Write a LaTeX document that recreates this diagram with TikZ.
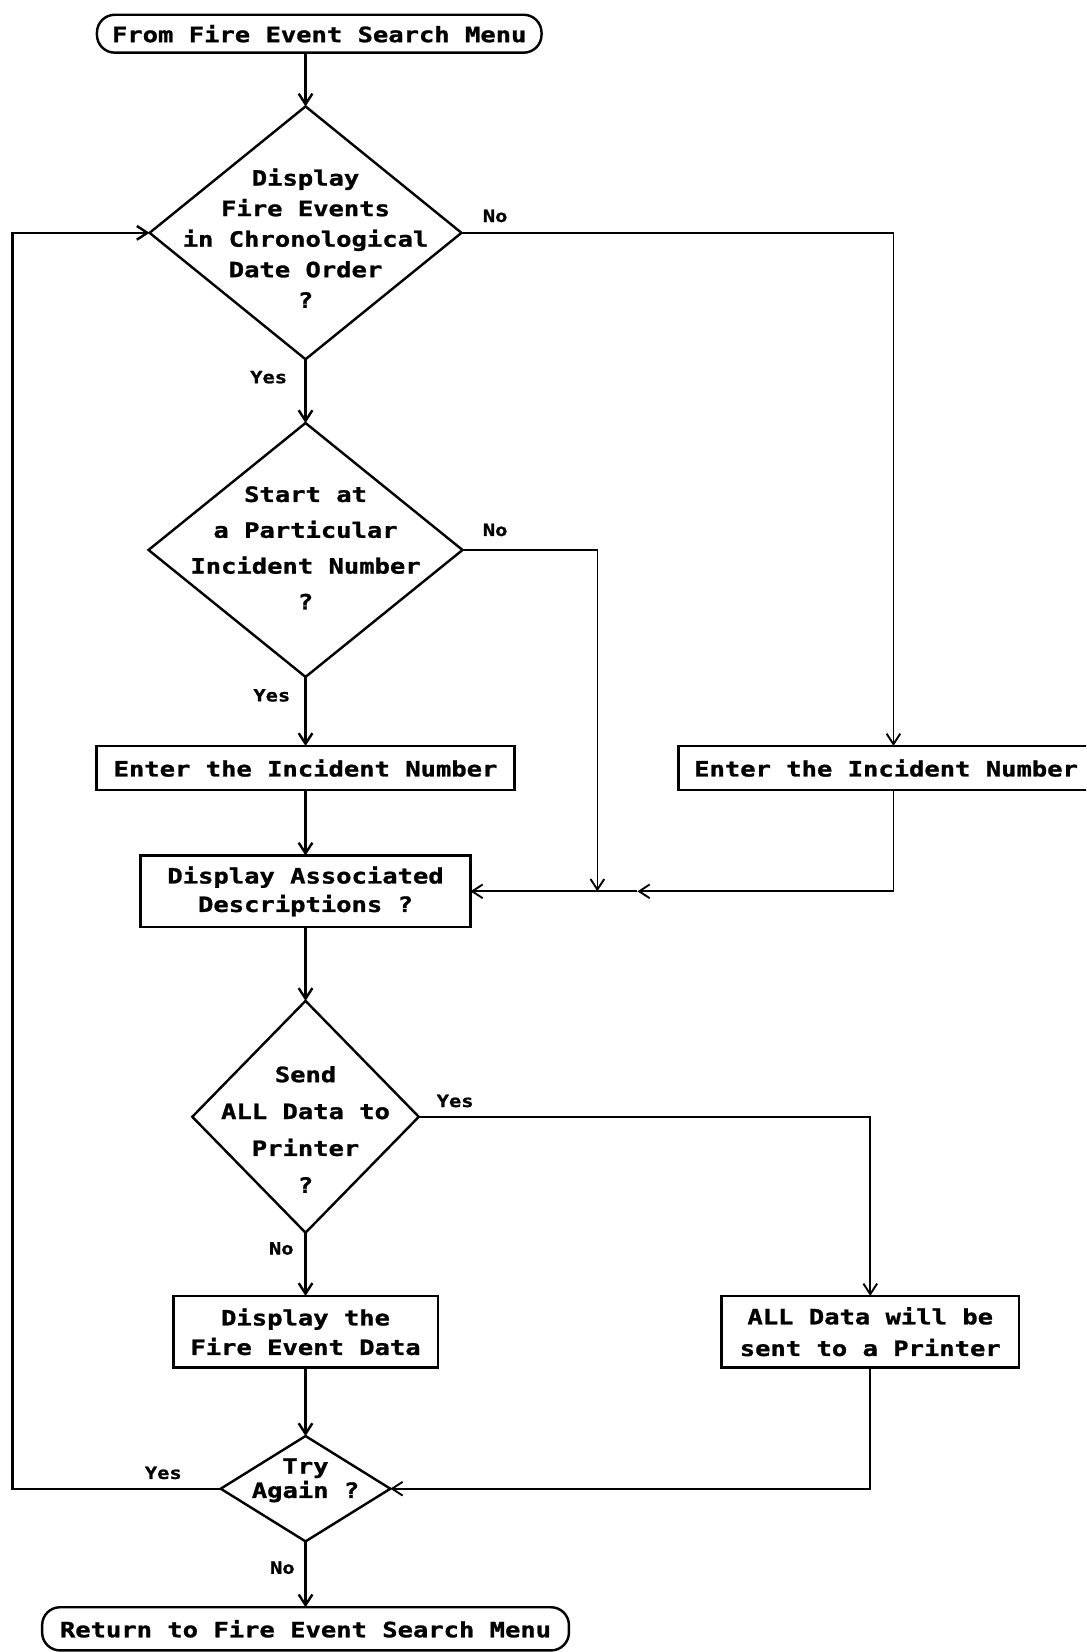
\documentclass[tikz,border=0pt]{standalone}
\usepackage{fontspec}
\setmainfont{DejaVu Sans Mono}[FakeStretch=1.21,BoldFeatures={FakeBold=1.2}]
\usetikzlibrary{shapes.geometric,arrows.meta}
\tikzset{
  ln/.style={line width=2.3pt},
  arr/.style={ln,-{Straight Barb[length=10pt,width=13pt,line width=2.3pt]}},
  tarr/.style={line width=1.6pt,-{Straight Barb[length=10pt,width=13pt,line width=1.8pt]}},
  txt/.style={font=\fontsize{20}{#1}\selectfont\bfseries,align=center,inner sep=0pt},
  txt/.default=29,
  lbl/.style={font=\fontsize{16}{18}\selectfont\bfseries,inner sep=0pt},
  box/.style={draw,ln,rectangle,inner sep=0pt,outer sep=0pt},
  term/.style={draw,ln,rectangle,rounded corners=17pt,inner sep=0pt,outer sep=0pt},
  dia/.style={draw,ln,diamond,inner sep=0pt,outer sep=0pt},
}
\begin{document}
\begin{tikzpicture}[x=1pt,y=-1pt]
\useasboundingbox (0,0) rectangle (1031,1568);
\clip (0,0) rectangle (1031,1568);
\fill[white] (0,0) rectangle (1031,1568);

% terminals
\node[term,minimum width=422pt,minimum height=36pt] (t1) at (303,32)
  {\fontsize{20}{24}\selectfont\bfseries From Fire Event Search Menu};
\node[term,minimum width=500pt,minimum height=41pt] (t2) at (290,1546)
  {\fontsize{20}{24}\selectfont\bfseries Return to Fire Event Search Menu};

% diamonds
\node[dia,minimum width=296pt,minimum height=240pt] (d1) at (290,221) {};
\node[txt=29] (d1t) at (290,226) {Display\\Fire Events\\in Chronological\\Date Order\\?};
\node[dia,minimum width=298pt,minimum height=241pt] (d2) at (290,522) {};
\node[txt=34] (d2t) at (290,520) {Start at\\a Particular\\Incident Number\\?};
\node[dia,minimum width=215pt,minimum height=220pt] (d3) at (290,1060) {};
\node[txt=35] (d3t) at (290,1072) {Send\\ALL Data to\\Printer\\?};
\node[dia,minimum width=161pt,minimum height=100pt] (d4) at (290,1413) {};
\node[txt=23] (d4t) at (290,1405) {Try\\Again ?};

% boxes
\node[box,minimum width=397pt,minimum height=42pt] (b1) at (290,729)
  {\fontsize{20}{24}\selectfont\bfseries Enter the Incident Number};
\node[box,minimum width=408pt,minimum height=42pt] (b2) at (848,729) {};
\node[txt] (b2t) at (841,729) {Enter the Incident Number};
\node[box,minimum width=313pt,minimum height=68pt,txt=27] (ds) at (290,846)
  {Display Associated\\Descriptions ?};
\node[box,minimum width=251pt,minimum height=68pt,txt=28] (dp) at (290,1264)
  {Display the\\Fire Event Data};
\node[box,minimum width=282pt,minimum height=68pt,txt=30] (pr) at (826,1264)
  {ALL Data will be\\sent to a Printer};

% helper coordinates
\coordinate (lp) at (12,0);
\coordinate (j2) at (567,0);
\coordinate (m1) at (605,0);

% spine
\draw[arr] (t1.south -| d1.north) -- (d1.north);
\draw[arr] (d1.south) -- (d2.north);
\draw[arr] (d2.south) -- (b1.north);
\draw[arr] (b1.south) -- (ds.north);
\draw[arr] (ds.south) -- (d3.north);
\draw[arr] (d3.south) -- (dp.north);
\draw[arr] (dp.south) -- (d4.north);
\draw[arr] (d4.south) -- (t2.north);

% branches
\draw[tarr] (d1.east) -| (b2.north);
\draw[tarr] (d2.east) -- (d2.east -| j2) -- (j2 |- ds.east);
\draw[tarr] (b2.south) |- (m1 |- ds.east);
\draw[tarr] (m1 |- ds.east) -- (ds.east);
\draw[tarr] (d3.east) -| (pr.north);
\draw[tarr] (pr.south) |- (d4.east);
\draw[arr] (d4.west) -- (d4.west -| lp) -- (d1.west -| lp) -- (d1.west);

% labels
\node[lbl] (l1) at (470,205) {No};
\node[lbl] (l2) at (255,358) {Yes};
\node[lbl] (l3) at (470,503) {No};
\node[lbl] (l4) at (258,660) {Yes};
\node[lbl] (l5) at (432,1045) {Yes};
\node[lbl] (l6) at (267,1185) {No};
\node[lbl] (l7) at (155,1398) {Yes};
\node[lbl] (l8) at (268,1488) {No};
\end{tikzpicture}
\end{document}
